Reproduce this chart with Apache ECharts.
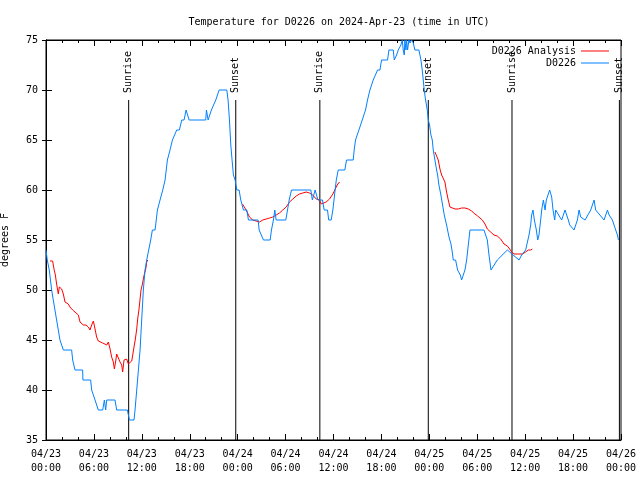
<!DOCTYPE html>
<html><head><meta charset="utf-8">
<script src="https://cdn.jsdelivr.net/npm/echarts@6/dist/echarts.min.js"></script>
<style>html,body{margin:0;padding:0;background:#fff}#c{width:640px;height:480px}</style>
</head><body><div id="c"></div><script>
// x values are hours since 2024-04-23 00:00 UTC
const xTickLabels = ['04/23\n00:00','04/23\n06:00','04/23\n12:00','04/23\n18:00','04/24\n00:00','04/24\n06:00','04/24\n12:00','04/24\n18:00','04/25\n00:00','04/25\n06:00','04/25\n12:00','04/25\n18:00','04/26\n00:00'];
const sunHours = [10.35, 23.76, 34.29, 47.87, 58.35, 71.80];
const sunNames = ['Sunrise','Sunset','Sunrise','Sunset','Sunrise','Sunset'];

const blueHours = [0.00,0.16,0.41,0.71,0.91,1.12,1.33,1.54,1.75,1.96,2.17,2.38,3.21,3.34,3.50,3.63,4.59,4.62,5.59,5.72,5.93,6.14,6.34,6.55,6.76,7.10,7.31,7.47,7.60,7.81,8.64,8.85,10.19,10.31,10.44,11.02,11.15,11.36,11.57,11.78,11.98,12.19,12.40,12.61,12.86,13.11,13.32,13.66,13.95,14.28,14.62,14.91,15.20,15.53,15.83,16.08,16.37,16.70,17.00,17.29,17.54,17.71,17.92,20.00,20.09,20.30,20.51,20.71,20.96,21.26,21.47,21.68,22.64,22.80,22.97,23.14,23.30,23.47,23.68,23.89,24.18,24.39,24.60,24.72,24.89,25.14,25.35,25.56,26.56,26.69,26.90,27.23,27.52,28.07,28.23,28.48,28.65,28.82,28.99,30.03,30.24,30.45,30.74,33.16,33.35,33.60,33.70,33.87,34.05,34.62,34.83,35.25,35.40,35.71,35.92,36.09,36.20,36.35,36.59,37.42,37.63,38.47,38.59,38.76,39.01,39.18,39.43,39.60,39.85,40.01,40.26,40.56,40.76,40.97,41.18,41.52,41.81,42.02,42.23,42.77,42.94,43.48,43.61,43.77,43.90,44.11,44.44,44.61,44.73,44.86,44.94,45.07,45.15,45.28,45.44,45.57,45.78,45.99,46.19,46.70,46.82,46.95,47.11,47.24,47.36,47.53,47.74,47.87,48.03,48.20,48.37,48.49,48.70,48.91,49.04,49.20,49.45,49.66,49.87,50.16,50.46,50.71,50.87,51.00,51.29,51.54,51.71,51.88,52.04,52.25,52.46,52.67,52.88,53.09,53.30,54.84,55.05,55.26,55.47,55.72,55.89,56.51,56.72,57.77,57.89,59.23,59.44,59.56,60.06,60.27,60.48,60.69,60.81,60.98,61.15,61.40,61.57,61.73,61.94,62.07,62.28,62.49,62.65,62.90,63.07,63.32,63.49,63.70,63.82,64.57,64.74,64.99,65.16,65.41,65.58,66.12,66.33,66.54,66.75,66.95,67.50,67.67,68.21,68.42,68.63,68.83,69.88,70.09,70.30,70.51,70.92,71.13,71.34,71.55,71.68];
const blueTemps = [54,53,52,50,49,48,47,46,45,45,44,44,44,43,43,42,42,41,41,40,40,39,39,38,38,38,39,38,39,39,39,38,38,38,37,37,38,40,42,44,47,50,52,53,54,55,56,56,58,59,60,61,63,64,65,65,66,66,67,67,68,68,67,67,68,67,67,68,68,69,69,70,70,69,67,64.5,63,61.5,61,60,60,59,59,58,58,58,57,57,57,56,56,55,55,55,56,57,58,57,57,57,58,59,60,60,59,59,60,60,59,59,58,58,57,57,58,58,60,61,62,62,63,63,64,65,65,66,66,67,67,68,69,70,70,71,71,72,72,73,73,73,74,74,73,73,73.5,74,74.5,75,74,73.5,75,74,75,74,75,74.7,75,74.7,74,74,73.5,73,72,71,70,69,68,67,66.5,65.5,65,64,63,62,61.5,60.5,59.5,58.5,57.5,56.5,55.3,54.6,53.8,53,53,52,52,51.5,51,51,52,53,54.5,56,56,56,56,55,53.5,52,52,53,53,54,54,53,53,53.5,54,54,55.5,56.5,57.5,58,57,56,55,55.5,57,58,59,58,59,59.6,60,59.3,58,57,58,57,57,58,58,57,56.5,56,56,57,58,57.3,57,57,58,58,59,58,57,57,58,57.5,57,57,56,55.5,55,54];

const red1Hours = [0.50,0.83,1.00,1.17,1.33,1.54,1.67,1.83,1.96,2.17,2.38,2.59,2.79,3.00,3.34,3.63,3.84,4.05,4.26,4.47,4.67,5.01,5.30,5.51,5.72,5.93,6.14,6.34,6.55,6.76,7.10,7.60,7.81,8.02,8.22,8.43,8.56,8.73,8.85,9.06,9.27,9.48,9.60,9.77,9.90,10.10,10.31,10.52,10.73,10.86,11.02,11.19,11.36,11.48,11.65,11.78,11.90,12.07,12.19,12.32,12.49,12.61,12.74];
const red1Temps = [52.9,52.9,52.1,51.5,50.6,49.6,50.3,50.5,50.1,49.6,48.8,48.7,48.6,48.3,48.0,47.8,47.9,47.5,46.8,46.6,46.5,46.5,46.3,46.0,46.5,46.9,46.1,45.3,44.9,44.8,44.7,44.5,44.8,44.1,43.3,42.8,42.1,42.9,43.6,43.2,42.8,42.5,41.8,43.0,43.0,43.1,42.6,42.6,42.9,43.5,44.3,45.1,46.1,47.1,48.1,49.1,50.0,50.6,51.1,51.6,52.1,52.8,53.0];
const red2Hours = [24.60,24.70,25.06,25.48,25.89,26.30,26.73,27.15,27.57,28.00,28.40,28.82,29.24,29.65,30.07,30.50,30.91,31.33,31.74,32.16,32.58,33.00,33.41,33.83,34.25,34.46,34.67,35.08,35.50,35.92,36.34,36.55,36.75];
const red2Temps = [58.6,58.5,58.0,57.3,57.0,56.9,56.8,57.0,57.1,57.2,57.3,57.5,57.7,58.0,58.3,58.8,59.1,59.4,59.6,59.7,59.8,59.7,59.5,59.1,59.0,58.6,58.4,58.8,59.1,59.6,60.3,60.6,60.8];
const red3Hours = [48.70,48.91,49.12,49.33,49.54,49.75,49.95,50.16,50.37,50.58,50.79,51.21,51.62,52.04,52.46,52.67,52.88,53.30,53.71,54.05,54.21,54.63,54.97,55.26,55.68,56.09,56.51,56.93,57.35,57.77,58.06,58.31,58.60,59.02,59.65,60.06,60.40,60.69,60.90];
const red3Temps = [63.8,63.6,63.0,62.1,61.5,61.3,60.8,59.8,59.0,58.3,58.1,58.1,58.1,58.2,58.2,58.2,58.1,57.9,57.6,57.4,57.3,57.0,56.6,56.1,55.8,55.5,55.4,55.1,54.6,54.4,54.1,53.8,53.6,53.6,53.6,53.8,54.0,54.0,54.1];

const yMin = 35, yMax = 75, yStep = 5, sunLineTop = 69;
const FONT = 'DejaVu Sans Mono';
const zip = (xs, ys) => xs.map((x, i) => [x, ys[i]]);

const txt = {fontFamily: FONT, fontSize: 10, color: '#000'};
const series = [];
[[red1Hours, red1Temps],[red2Hours, red2Temps],[red3Hours, red3Temps]].forEach(([h, t]) => {
  series.push({name: 'D0226 Analysis', type: 'line', data: zip(h, t), symbol: 'none', z: 3,
    lineStyle: {color: '#ff0000', width: 1}, itemStyle: {color: '#ff0000'}, animation: false});
});
series.push({name: 'D0226', type: 'line', data: zip(blueHours, blueTemps), symbol: 'none', z: 4,
  lineStyle: {color: '#0080ff', width: 1}, itemStyle: {color: '#0080ff'}, animation: false});
sunHours.forEach((h, i) => {
  series.push({name: 'sun' + i, type: 'line', symbol: 'circle', symbolSize: 0, showSymbol: true, z: 2,
    lineStyle: {color: '#000', width: 1}, itemStyle: {color: '#000'}, animation: false, silent: true,
    label: {show: false, position: 'top', rotate: 90, align: 'left', verticalAlign: 'middle', distance: 7,
      fontFamily: FONT, fontSize: 10, color: '#000', formatter: () => sunNames[i]},
    data: [[h, yMin], {value: [h, sunLineTop], label: {show: true}}]});
});

const chart = echarts.init(document.getElementById('c'), null, {renderer: 'canvas'});
chart.setOption({
  animation: false,
  backgroundColor: '#fff',
  title: {text: 'Temperature for D0226 on 2024-Apr-23 (time in UTC)', left: 334, textAlign: 'center', top: 12,
    textStyle: {fontFamily: FONT, fontSize: 10, fontWeight: 'normal', color: '#000'}},
  legend: {data: ['D0226 Analysis', 'D0226'], orient: 'vertical', right: 26, top: 41, align: 'right',
    icon: 'rect', itemWidth: 28, itemHeight: 1, itemGap: 2, textStyle: txt, selectedMode: false},
  grid: {left: 46, right: 19, top: 40, bottom: 40, show: true, borderColor: '#000', borderWidth: 1,
    containLabel: false, outerBoundsMode: 'none'},
  xAxis: [{type: 'value', min: 0, max: 72, interval: 6, position: 'bottom',
    axisLine: {show: true, lineStyle: {color: '#000'}},
    axisTick: {show: true, inside: true, length: 6, lineStyle: {color: '#000'}},
    minorTick: {show: true, splitNumber: 3, length: 3, lineStyle: {color: '#000'}},
    splitLine: {show: false},
    axisLabel: Object.assign({margin: 7, lineHeight: 14, formatter: v => xTickLabels[Math.round(v / 6)]}, txt)},
   {type: 'value', min: 0, max: 72, interval: 6, position: 'top',
    axisLine: {show: true, lineStyle: {color: '#000'}},
    axisTick: {show: true, inside: true, length: 6, lineStyle: {color: '#000'}},
    minorTick: {show: true, splitNumber: 3, length: 3, lineStyle: {color: '#000'}},
    splitLine: {show: false}, axisLabel: {show: false}}],
  yAxis: [{type: 'value', min: yMin, max: yMax, interval: yStep, position: 'left',
    name: 'degrees F', nameLocation: 'middle', nameRotate: 90, nameGap: 36, nameTextStyle: txt,
    axisLine: {show: true, lineStyle: {color: '#000'}},
    axisTick: {show: true, inside: true, length: 6, lineStyle: {color: '#000'}},
    splitLine: {show: false},
    axisLabel: Object.assign({margin: 8}, txt)},
   {type: 'value', min: yMin, max: yMax, interval: yStep, position: 'right',
    axisLine: {show: true, lineStyle: {color: '#000'}},
    axisTick: {show: true, inside: true, length: 4, lineStyle: {color: '#000'}},
    splitLine: {show: false}, axisLabel: {show: false}}],
  series: series
});
</script></body></html>
